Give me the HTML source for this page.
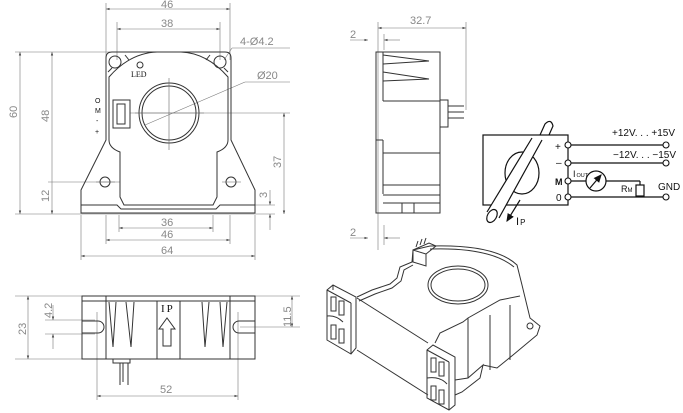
<!DOCTYPE html>
<html><head><meta charset="utf-8"><style>
html,body{margin:0;padding:0;background:#fff;width:683px;height:413px;overflow:hidden}
svg{display:block}
.o{fill:none;stroke:#333;stroke-width:1}
.t{fill:none;stroke:#666;stroke-width:0.6}
.d{fill:none;stroke:#777;stroke-width:0.6}
.dt{font-family:"Liberation Sans",sans-serif;font-size:11px;fill:#888}
.c{font-family:"Liberation Sans",sans-serif;font-size:10px;fill:#111}
</style></head><body>
<svg width="683" height="413" viewBox="0 0 683 413" xmlns="http://www.w3.org/2000/svg">
<defs><marker id="a" markerWidth="6" markerHeight="6" refX="6" refY="3" orient="auto-start-reverse"><path d="M0,1 L6,3 L0,5z" fill="#444"/></marker>
<marker id="b" markerWidth="7" markerHeight="7" refX="6" refY="3.5" orient="auto"><path d="M0,0.5 L7,3.5 L0,6.5z" fill="#111"/></marker></defs>

<!-- FRONT VIEW -->
<g class="d">
<line x1="106" y1="3" x2="106" y2="60"/><line x1="230" y1="3" x2="230" y2="60"/>
<line x1="106" y1="9" x2="230" y2="9" marker-start="url(#a)" marker-end="url(#a)"/>
<line x1="117" y1="22" x2="117" y2="60"/><line x1="220" y1="22" x2="220" y2="60"/>
<line x1="117" y1="29" x2="220" y2="29" marker-start="url(#a)" marker-end="url(#a)"/>
<line x1="15" y1="52" x2="110" y2="52"/><line x1="15" y1="214" x2="275" y2="214"/>
<line x1="20" y1="52" x2="20" y2="214" marker-start="url(#a)" marker-end="url(#a)"/>
<line x1="52" y1="52" x2="52" y2="214" marker-start="url(#a)" marker-end="url(#a)"/>
<line x1="48" y1="182" x2="120" y2="182"/>
<line x1="130" y1="113" x2="290" y2="113"/>
<line x1="284" y1="113" x2="284" y2="214" marker-start="url(#a)" marker-end="url(#a)"/>
<line x1="225" y1="205" x2="275" y2="205"/>
<line x1="270" y1="190" x2="270" y2="205" marker-end="url(#a)"/><line x1="270" y1="230" x2="270" y2="214" marker-end="url(#a)"/>
<line x1="119" y1="215" x2="119" y2="232"/><line x1="213" y1="215" x2="213" y2="232"/>
<line x1="119" y1="228" x2="213" y2="228" marker-start="url(#a)" marker-end="url(#a)"/>
<line x1="106" y1="215" x2="106" y2="244"/><line x1="230" y1="215" x2="230" y2="244"/>
<line x1="106" y1="240" x2="230" y2="240" marker-start="url(#a)" marker-end="url(#a)"/>
<line x1="81" y1="215" x2="81" y2="260"/><line x1="255" y1="215" x2="255" y2="260"/>
<line x1="81" y1="256" x2="255" y2="256" marker-start="url(#a)" marker-end="url(#a)"/>
<line x1="224" y1="60" x2="232" y2="48"/><line x1="232" y1="48" x2="290" y2="48"/>
<line x1="145" y1="125" x2="245" y2="82"/><line x1="245" y1="82" x2="290" y2="82"/>
</g>
<text class="dt" x="161" y="8">46</text><text class="dt" x="161" y="27">38</text>
<text class="dt" x="240" y="45">4-Ø4.2</text><text class="dt" x="257" y="79">Ø20</text>
<text class="dt" transform="translate(17,118) rotate(-90)">60</text>
<text class="dt" transform="translate(49,122) rotate(-90)">48</text>
<text class="dt" transform="translate(49,202) rotate(-90)">12</text>
<text class="dt" transform="translate(281,168) rotate(-90)">37</text>
<text class="dt" transform="translate(267,198) rotate(-90)">3</text>
<text class="dt" x="161" y="226">36</text><text class="dt" x="161" y="238">46</text><text class="dt" x="161" y="254">64</text>
<g class="o">
<path d="M112,52 L225,52 Q231,52 231,58 L231,140 L255,190 L255,213 L81,213 L81,190 L106,140 L106,58 Q106,52 112,52 Z"/>
<path d="M109,77 Q130,53 157,52 L181,52 Q207,53 228,77 L228,140 Q228,148 217,152 L217,197 L213,205 L124,205 L120,197 L120,152 Q109,148 109,140 Z"/>
<path d="M81,205 L117,205 L121,209 L216,209 L220,205 L255,205"/>
<circle cx="169" cy="113" r="30"/><circle cx="169" cy="113" r="27"/>
<circle cx="115" cy="62" r="6"/><circle cx="220" cy="62" r="6"/>
<circle cx="105" cy="182" r="5"/><circle cx="231" cy="182" r="5"/>
<circle cx="140" cy="65" r="3"/>
<line x1="125" y1="55" x2="129" y2="60"/><line x1="210" y1="55" x2="206" y2="60"/>
<line x1="108" y1="72" x2="112" y2="68"/><line x1="228" y1="72" x2="224" y2="68"/>
<rect x="113" y="100" width="17" height="28"/>
<rect x="117" y="104" width="8" height="20"/>
</g>
<g class="t"><line x1="169" y1="78" x2="169" y2="150"/><line x1="135" y1="113" x2="204" y2="113"/>
<line x1="96" y1="182" x2="115" y2="182"/><line x1="222" y1="182" x2="241" y2="182"/></g>
<text class="c" x="131" y="77" style="font-family:'Liberation Serif',serif;font-size:8px">LED</text>
<text class="c" x="95" y="103" style="font-size:7px">O</text><text class="c" x="95" y="113" style="font-size:7px">M</text>
<text class="c" x="96" y="123" style="font-size:7px">-</text><text class="c" x="95" y="134" style="font-size:7px">+</text>

<!-- SIDE VIEW -->
<g class="d">
<line x1="378" y1="22" x2="378" y2="250"/><line x1="466" y1="22" x2="466" y2="110"/>
<line x1="378" y1="28" x2="466" y2="28" marker-start="url(#a)" marker-end="url(#a)"/>
<line x1="350" y1="40" x2="368" y2="40" marker-end="url(#a)"/><line x1="400" y1="40" x2="384" y2="40" marker-end="url(#a)"/>
<line x1="384" y1="34" x2="384" y2="50"/>
<line x1="350" y1="238" x2="368" y2="238" marker-end="url(#a)"/><line x1="400" y1="238" x2="384" y2="238" marker-end="url(#a)"/>
<line x1="384" y1="225" x2="384" y2="245"/>
</g>
<text class="dt" x="410" y="24">32.7</text><text class="dt" x="350" y="38">2</text><text class="dt" x="350" y="236">2</text>
<g class="o">
<rect x="376" y="52" width="64" height="161"/>
<line x1="383" y1="52" x2="383" y2="101"/><line x1="383" y1="101" x2="440" y2="101"/>
<path d="M383,55 L429,61 L383,64"/><path d="M383,72 L429,79 L383,81"/>
<rect x="440" y="100" width="8" height="27"/>
<line x1="448" y1="106" x2="464" y2="106"/><line x1="448" y1="112" x2="464" y2="112"/><line x1="448" y1="118" x2="464" y2="118"/>
<line x1="376" y1="140" x2="383" y2="140"/><line x1="383" y1="140" x2="383" y2="194"/>
<line x1="383" y1="153" x2="440" y2="153"/><line x1="383" y1="185" x2="440" y2="185"/>
<line x1="383" y1="195" x2="440" y2="195"/><line x1="383" y1="203" x2="440" y2="203"/>
<line x1="402" y1="203" x2="402" y2="213"/><line x1="414" y1="203" x2="414" y2="213"/>
</g>

<!-- CIRCUIT -->
<g fill="none" stroke="#111" stroke-width="1.2">
<path d="M540,135 L545,124 Q551,118 553,126 L549,135"/>
<rect x="483" y="135" width="85" height="70"/>
<ellipse cx="522" cy="173" rx="17" ry="21"/>
<path d="M487,212 L532,138 L542,140 L500,216 Z" fill="#fff" stroke="none"/>
<line x1="487" y1="212" x2="532" y2="138"/><line x1="499" y1="218" x2="542" y2="140"/>
<ellipse cx="492" cy="216" rx="4.5" ry="7" transform="rotate(30 492 216)" fill="#fff"/>
<line x1="568" y1="145" x2="664" y2="145"/><line x1="568" y1="163" x2="664" y2="163"/>
<line x1="568" y1="181" x2="586" y2="181"/><line x1="606" y1="181" x2="640" y2="181"/>
<line x1="640" y1="181" x2="640" y2="185"/><rect x="636" y="185" width="8" height="11"/>
<line x1="568" y1="197" x2="664" y2="197"/>
<circle cx="596" cy="181" r="10"/><line x1="590" y1="188" x2="601" y2="175" marker-end="url(#b)"/>
<line x1="520" y1="200" x2="507" y2="221" marker-end="url(#b)"/>
</g>
<g fill="#fff" stroke="#111" stroke-width="1.1">
<circle cx="568" cy="145" r="3"/><circle cx="568" cy="163" r="3"/><circle cx="568" cy="181" r="3"/><circle cx="568" cy="197" r="3"/>
<circle cx="666" cy="145" r="3"/><circle cx="666" cy="163" r="3"/><circle cx="666" cy="197" r="3"/>
</g>
<text class="c" x="555" y="150" style="font-size:10px">+</text><text class="c" x="556" y="166">–</text>
<text class="c" x="555" y="185" style="font-size:9px;font-weight:bold">M</text><text class="c" x="556" y="201">0</text>
<text class="c" x="612" y="136">+12V. . . +15V</text><text class="c" x="613" y="158">−12V. . . −15V</text>
<text class="c" x="658" y="190">GND</text>
<text class="c" x="573" y="177" style="font-size:9px">I<tspan font-size="5.5" dx="1">OUT</tspan></text>
<text class="c" x="621" y="192" style="font-size:9px">R<tspan font-size="6">M</tspan></text>
<text class="c" x="516" y="225" style="font-size:11px">I<tspan font-size="8" dx="1">P</tspan></text>

<!-- BOTTOM VIEW -->
<g class="d">
<line x1="15" y1="296" x2="90" y2="296"/><line x1="15" y1="359" x2="90" y2="359"/>
<line x1="28" y1="296" x2="28" y2="359" marker-start="url(#a)" marker-end="url(#a)"/>
<line x1="45" y1="320" x2="95" y2="320"/><line x1="45" y1="334" x2="95" y2="334"/>
<line x1="53" y1="305" x2="53" y2="320" marker-end="url(#a)"/><line x1="53" y1="349" x2="53" y2="334" marker-end="url(#a)"/>
<line x1="240" y1="296" x2="300" y2="296"/><line x1="240" y1="327" x2="300" y2="327"/>
<line x1="292" y1="296" x2="292" y2="327" marker-start="url(#a)" marker-end="url(#a)"/>
<line x1="97" y1="312" x2="97" y2="400"/><line x1="238" y1="312" x2="238" y2="400"/>
<line x1="97" y1="396" x2="238" y2="396" marker-start="url(#a)" marker-end="url(#a)"/>
</g>
<text class="dt" transform="translate(26,335) rotate(-90)">23</text>
<text class="dt" transform="translate(52,318) rotate(-90)">4.2</text>
<text class="dt" transform="translate(291,327) rotate(-90)">11.5</text>
<text class="dt" x="160" y="393">52</text>
<g class="o">
<rect x="82" y="296" width="173" height="63"/>
<line x1="82" y1="301" x2="255" y2="301"/>
<line x1="106" y1="296" x2="106" y2="359"/><line x1="230" y1="296" x2="230" y2="359"/>
<line x1="157" y1="301" x2="157" y2="359"/><line x1="180" y1="301" x2="180" y2="359"/>
<path d="M82,321 L98,321 A6,6 0 0 1 98,333 L82,333"/>
<path d="M255,321 L239,321 A6,6 0 0 0 239,333 L255,333"/>
<path d="M109,302 L113,347 L116,302"/><path d="M126,302 L131,347 L134,302"/>
<path d="M202,302 L205,347 L209,302"/><path d="M220,302 L223,347 L227,302"/>
<path d="M163,346 L163,329 L159,329 L167,318 L175,329 L171,329 L171,346 Z"/>
<rect x="113" y="359" width="17" height="4"/>
<line x1="120" y1="363" x2="120" y2="385"/><line x1="123" y1="363" x2="123" y2="382"/><line x1="128" y1="363" x2="128" y2="385"/>
</g>
<text class="c" x="161" y="312" style="font-family:'Liberation Serif',serif;font-size:11px;letter-spacing:2px">IP</text>

<!-- ISOMETRIC -->
<g class="o" stroke-width="0.9">
<path d="M357,297 L372,290 L390,284 L397,278 L400,267 L412,262 L413,250 L430,246 Q495,244 517,265 L522,285 L530,318 L540,326 L537,335 L513,355 L497,368 L483,365"/>
<path d="M359,301 L375,294 L392,288 L401,281 L404,270 L413,265"/>
<path d="M430,249 Q490,247 514,267"/>
<ellipse cx="458" cy="285" rx="30" ry="19"/><ellipse cx="458" cy="285" rx="27" ry="16"/>
<path d="M413,250 L413,262 L426,266 L426,254 Z"/><path d="M413,250 L429,243 L436,246 L426,254"/>
<line x1="416" y1="247" x2="418" y2="241"/><line x1="420" y1="245" x2="422" y2="239"/><line x1="424" y1="244" x2="426" y2="238"/>
<path d="M327,290 L333,285 L356,297 L356,348 L351,354 L327,340 Z"/>
<line x1="333" y1="285" x2="333" y2="290"/><line x1="327" y1="290" x2="351" y2="303"/><line x1="351" y1="303" x2="351" y2="354"/>
<rect x="331" y="297" width="5" height="14"/><rect x="339" y="301" width="5" height="14"/>
<path d="M327,316 Q336,315 343,322"/>
<rect x="331" y="325" width="5" height="14"/><rect x="339" y="329" width="5" height="14"/>
<line x1="357" y1="298" x2="428" y2="343"/><line x1="357" y1="350" x2="428" y2="395"/>
<path d="M427,350 L433,345 L455,357 L455,405 L449,410 L427,398 Z"/>
<line x1="427" y1="350" x2="449" y2="362"/><line x1="449" y1="362" x2="449" y2="410"/>
<rect x="431" y="358" width="5" height="14"/><rect x="439" y="362" width="5" height="14"/>
<path d="M427,378 Q440,376 447,384"/>
<rect x="431" y="386" width="5" height="14"/><rect x="439" y="390" width="5" height="14"/>
<path d="M435,343 L440,333 L463,322 L468,318 L500,300 L520,296"/>
<line x1="468" y1="318" x2="468" y2="378"/><line x1="490" y1="315" x2="490" y2="370"/><line x1="510" y1="305" x2="510" y2="360"/>
<circle cx="530" cy="326" r="3"/>
<path d="M455,380 L468,378 L483,365 L480,378 L462,392 L455,395"/>
</g>
</svg>
</body></html>
